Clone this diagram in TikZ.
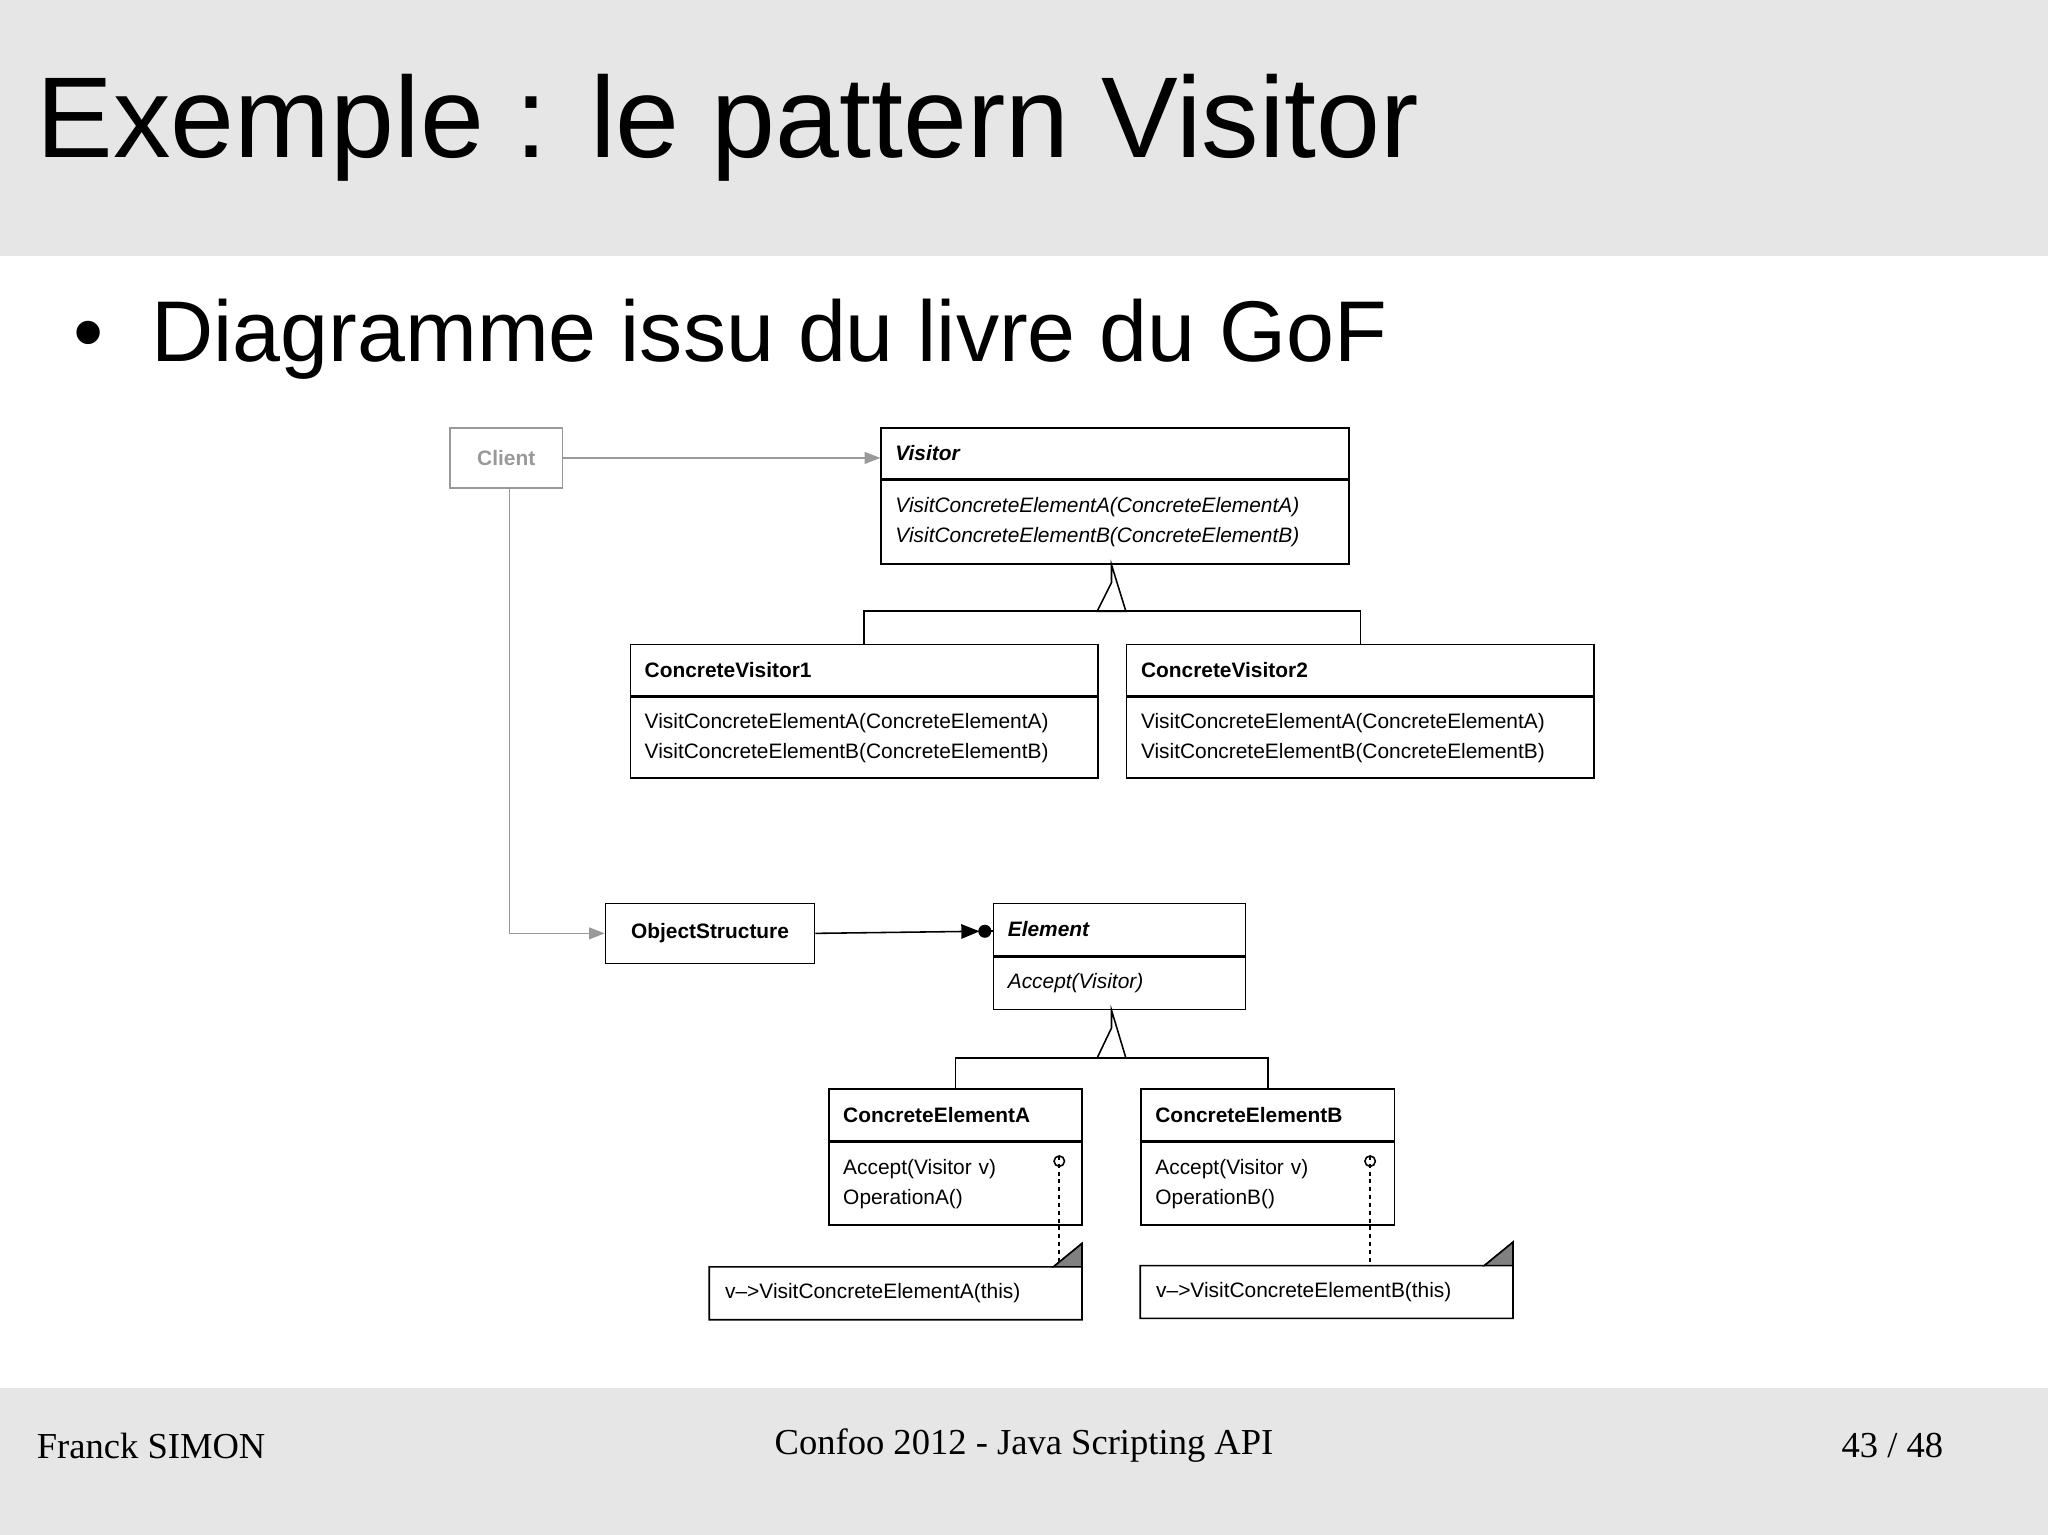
\documentclass[tikz,border=0pt]{standalone}
\usepackage{fontspec}
\setmainfont{Liberation Serif}
\newfontfamily\helv{Liberation Sans}
\usetikzlibrary{arrows.meta}
\definecolor{band}{HTML}{E6E6E6}
\definecolor{cligray}{HTML}{999999}
\begin{document}
\begin{tikzpicture}[x=1pt,y=-1pt]
\tikzset{
  every node/.style={inner sep=0pt},
  head/.style={draw, anchor=north west, text width=#1, inner xsep=11pt, minimum height=39pt,
    align=left, font=\helv\fontsize{16}{23}\selectfont\bfseries, line width=1.2pt},
  body/.style={draw, anchor=north west, text width=#1, inner xsep=11pt, inner ysep=7pt,
    align=left, font=\helv\fontsize{16}{23}\selectfont, line width=1.2pt},
  simple/.style={draw, anchor=north west, minimum width=#1, minimum height=46pt,
    font=\helv\fontsize{16}{20}\selectfont\bfseries, line width=1.2pt},
  note/.style={anchor=north west, minimum height=40pt, text width=#1, inner xsep=12pt,
    align=left, font=\helv\fontsize{16}{20}\selectfont},
  inh/.style={line width=1.2pt},
  cli/.style={cligray, line width=1.2pt, -{Triangle[length=12pt,width=9pt]}}
}
\useasboundingbox (0,0) rectangle (1568,1175);
% bands
\fill[band] (0,0) rectangle (1568,196);
\fill[band] (0,1063) rectangle (1568,1175);
\node[anchor=west, font=\helv\fontsize{88}{90}\selectfont] (title) at (28,98) {Exemple : le pattern Visitor};
\node[anchor=west, font=\helv\fontsize{66}{70}\selectfont] (bullet) at (56,260) {\textbullet\ \ Diagramme issu du livre du GoF};
\node[anchor=west, font=\fontsize{28}{30}\selectfont] (author) at (28,1107) {Franck SIMON};
\node[font=\fontsize{28}{30}\selectfont] (conf) at (784,1107) {Confoo 2012 - Java Scripting API};
\node[anchor=east, font=\fontsize{28}{30}\selectfont] (page) at (1488,1107) {43 / 48};

% classes
\node[simple=86pt, draw=cligray, text=cligray] (client) at (344,327) {Client};
\node[head=336pt] (visitor) at (674,327) {\itshape Visitor};
\node[body=336pt, anchor=north west, minimum height=64pt] (visitorb) at (visitor.south west)
  {\itshape VisitConcreteElementA(ConcreteElementA)\\\itshape VisitConcreteElementB(ConcreteElementB)};
\node[head=336pt] (cv1) at (482,493) {ConcreteVisitor1};
\node[body=336pt, minimum height=62pt] (cv1b) at (cv1.south west)
  {VisitConcreteElementA(ConcreteElementA)\\VisitConcreteElementB(ConcreteElementB)};
\node[head=336pt] (cv2) at (862,493) {ConcreteVisitor2};
\node[body=336pt, minimum height=62pt] (cv2b) at (cv2.south west)
  {VisitConcreteElementA(ConcreteElementA)\\VisitConcreteElementB(ConcreteElementB)};
\node[simple=160pt] (objs) at (463,691) {ObjectStructure};
\node[head=171pt, minimum height=40pt] (elem) at (760,691) {\itshape Element};
\node[body=171pt, minimum height=40pt] (elemb) at (elem.south west) {\itshape Accept(Visitor)};
\node[head=172pt, minimum height=40pt] (cea) at (634,833) {ConcreteElementA};
\node[body=172pt, minimum height=63pt] (ceab) at (cea.south west) {Accept(Visitor v)\\OperationA()};
\node[head=172pt, minimum height=40pt] (ceb) at (873,833) {ConcreteElementB};
\node[body=172pt, minimum height=63pt] (cebb) at (ceb.south west) {Accept(Visitor v)\\OperationB()};

% notes
\node[note=261pt] (notea) at (543,970) {v–>VisitConcreteElementA(this)};
\node[note=261pt] (noteb) at (873,969) {v–>VisitConcreteElementB(this)};
\foreach \n in {notea,noteb} {
  \draw[line width=1.2pt] (\n.north west) -- ([xshift=-22pt]\n.north east) -- ([yshift=18pt]\n.north east)
    -- (\n.south east) -- (\n.south west) -- cycle;
  \filldraw[fill=gray, line width=1.2pt] ([xshift=-22pt]\n.north east) -- (\n.north east)
    -- ([yshift=18pt]\n.north east) -- cycle;
}
\coordinate (lolA) at (811,889);
\coordinate (lolB) at (1049,889);
\draw[line width=1.2pt] (lolA) circle (4pt) (lolB) circle (4pt);
\draw[dashed, line width=1.2pt] ([yshift=4pt]lolA) -- (lolA |- notea.north);
\draw[dashed, line width=1.2pt] ([yshift=4pt]lolB) -- (lolB |- noteb.north);

% inheritance
\coordinate (tv) at (851,446);
\draw[inh] (visitorb.south -| tv) -- (tv) -- ++(-11,22) -- ++(22,0) -- cycle;
\draw[inh] (cv1.north) |- (851,468) -| (cv2.north);
\coordinate (te) at (851,787);
\draw[inh] (elemb.south -| te) -- (te) -- ++(-11,23) -- ++(22,0) -- cycle;
\draw[inh] (cea.north) |- (851,810) -| (ceb.north);

% associations
\coordinate (cdown) at (390,373);
\draw[cli] (client.east) -- (visitor.west |- client.east);
\draw[cli] (cdown) |- (objs.west);
\coordinate (dot) at (754,713);
\draw[line width=1.2pt, -{Triangle[length=14pt,width=11pt]}] (objs.east) -- ([xshift=-4pt]dot);
\fill (dot) circle (5pt);
\draw[line width=1.2pt] (dot) -- (elem.west |- dot);
\end{tikzpicture}
\end{document}
